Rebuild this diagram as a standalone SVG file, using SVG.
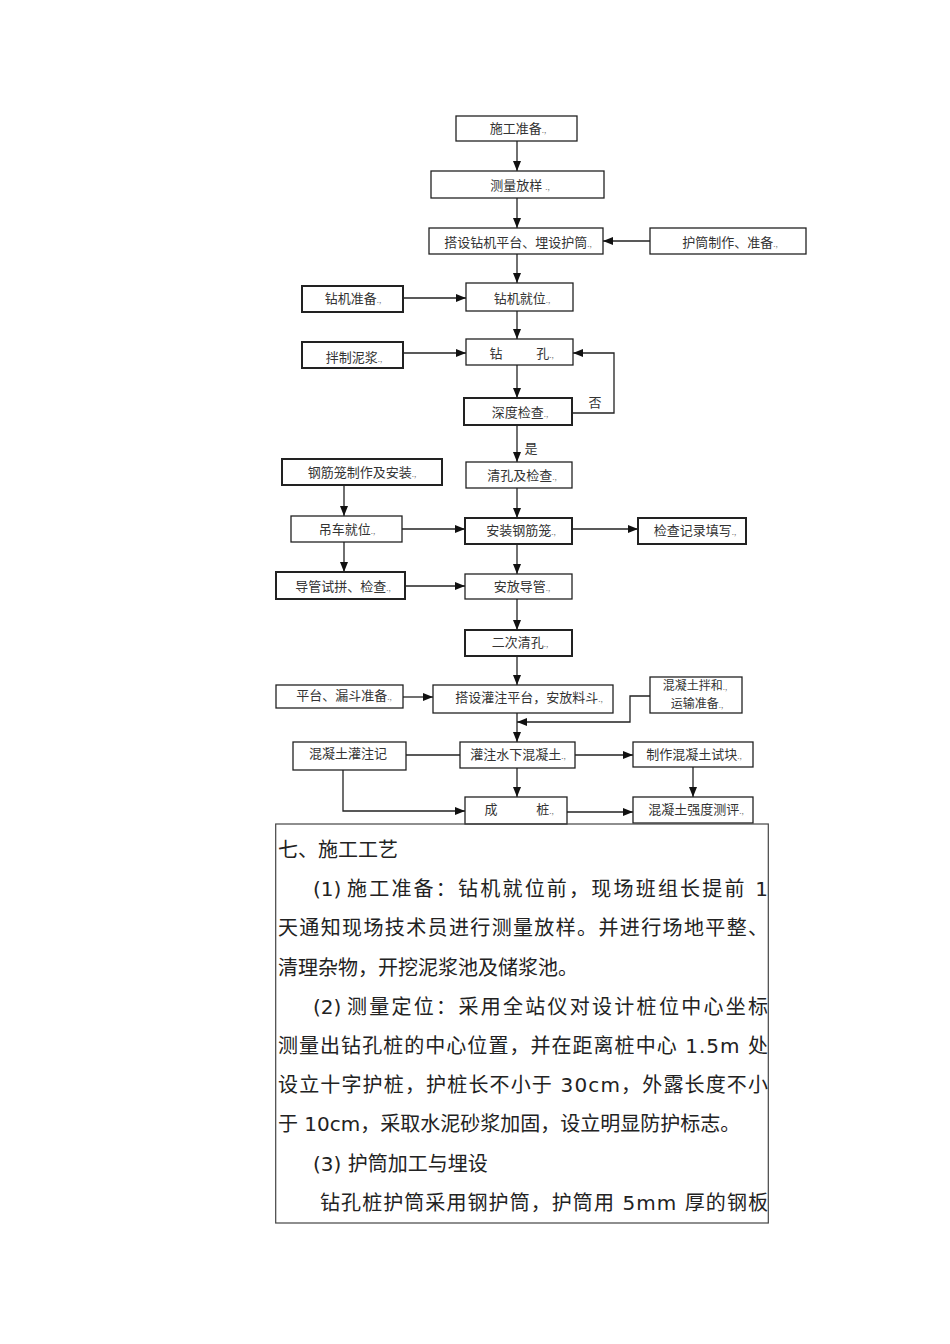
<svg xmlns="http://www.w3.org/2000/svg" width="950" height="1344" viewBox="0 0 950 1344">
<style>
.bx{fill:#fff;stroke:#222;stroke-width:1.3}
.bt{fill:#fff;stroke:#222;stroke-width:2}
.t{font-family:"Noto Sans CJK SC","DejaVu Sans",sans-serif;font-size:13px;fill:#333;text-anchor:middle}
.t2{font-size:12px}
.m{font-size:8px;fill:#777}
.c{fill:none;stroke:#222;stroke-width:1.3}
.p{font-family:"DejaVu Sans","Noto Sans CJK SC",sans-serif;font-size:20px;fill:#222}
</style>
<defs>
<marker id="a" markerUnits="userSpaceOnUse" markerWidth="11" markerHeight="9" refX="10" refY="4" orient="auto">
<path d="M0,0 L10,4 L0,8 z" fill="#111"/>
</marker>
</defs>
<rect width="950" height="1344" fill="#fff"/>
<g id="connectors">
<path class="c" d="M517,141 V171" marker-end="url(#a)"/>
<path class="c" d="M517,198 V228" marker-end="url(#a)"/>
<path class="c" d="M650,241 H603" stroke-width="2.2" marker-end="url(#a)"/>
<path class="c" d="M517,254 V283" marker-end="url(#a)"/>
<path class="c" d="M403,298 H466" marker-end="url(#a)"/>
<path class="c" d="M517,311 V339" marker-end="url(#a)"/>
<path class="c" d="M403,353 H466" marker-end="url(#a)"/>
<path class="c" d="M517,365 V398" marker-end="url(#a)"/>
<path class="c" d="M572,413 H614 V353 H573" marker-end="url(#a)"/>
<path class="c" d="M517,425 V462" marker-end="url(#a)"/>
<path class="c" d="M517,488 V518" marker-end="url(#a)"/>
<path class="c" d="M344,485 V516" marker-end="url(#a)"/>
<path class="c" d="M402,529 H465" marker-end="url(#a)"/>
<path class="c" d="M572,529 H638" marker-end="url(#a)"/>
<path class="c" d="M344,542 V572" marker-end="url(#a)"/>
<path class="c" d="M517,544 V574" marker-end="url(#a)"/>
<path class="c" d="M405,586 H465" marker-end="url(#a)"/>
<path class="c" d="M517,599 V630" marker-end="url(#a)"/>
<path class="c" d="M517,656 V685" marker-end="url(#a)"/>
<path class="c" d="M403,697 H433" marker-end="url(#a)"/>
<path class="c" d="M517,713 V742" marker-end="url(#a)"/>
<path class="c" d="M650,696 H630 V722 H517" marker-end="url(#a)"/>
<path class="c" d="M406,755 H460"/>
<path class="c" d="M575,755 H633" marker-end="url(#a)"/>
<path class="c" d="M517,768 V797" marker-end="url(#a)"/>
<path class="c" d="M693,767 V797" marker-end="url(#a)"/>
<path class="c" d="M343,770 V811 H465" marker-end="url(#a)"/>
<path class="c" d="M567,812 H633" marker-end="url(#a)"/>
<text x="595" y="407" class="t">否</text>
<text x="531" y="453" class="t">是</text>
</g>
<g id="n1"><rect class="bx" x="456" y="116" width="121" height="25"/><text class="t" x="518" y="133">施工准备<tspan class="m">.,</tspan></text></g>
<g id="n2"><rect class="bx" x="431" y="171" width="173" height="27"/><text class="t" x="520" y="190">测量放样 <tspan class="m">.,</tspan></text></g>
<g id="n3"><rect class="bx" x="429" y="228" width="174" height="26"/><text class="t" x="518" y="247">搭设钻机平台、埋设护筒<tspan class="m">.,</tspan></text></g>
<g id="n4"><rect class="bx" x="650" y="228" width="156" height="26"/><text class="t" x="730" y="247">护筒制作、准备<tspan class="m">.,</tspan></text></g>
<g id="n5"><rect class="bt" x="302" y="286" width="101" height="26"/><text class="t" x="353" y="303">钻机准备<tspan class="m">.,</tspan></text></g>
<g id="n6"><rect class="bx" x="466" y="283" width="107" height="28"/><text class="t" x="522" y="303">钻机就位<tspan class="m">.,</tspan></text></g>
<g id="n7"><rect class="bt" x="302" y="342" width="101" height="26"/><text class="t" x="354" y="362">拌制泥浆<tspan class="m">.,</tspan></text></g>
<g id="n8"><rect class="bx" x="466" y="339" width="107" height="26"/><text class="t" x="496" y="358">钻</text><text class="t" x="545" y="358">孔<tspan class="m">.,</tspan></text></g>
<g id="n9"><rect class="bt" x="464" y="398" width="108" height="27"/><text class="t" x="520" y="417">深度检查<tspan class="m">.,</tspan></text></g>
<g id="n10"><rect class="bx" x="466" y="462" width="106" height="26"/><text class="t" x="522" y="480">清孔及检查<tspan class="m">.,</tspan></text></g>
<g id="n11"><rect class="bt" x="282" y="459" width="160" height="26"/><text class="t" x="362" y="477">钢筋笼制作及安装<tspan class="m">.,</tspan></text></g>
<g id="n12"><rect class="bx" x="291" y="516" width="111" height="26"/><text class="t" x="347" y="534">吊车就位<tspan class="m">.,</tspan></text></g>
<g id="n13"><rect class="bt" x="465" y="518" width="107" height="26"/><text class="t" x="521" y="535">安装钢筋笼<tspan class="m">.,</tspan></text></g>
<g id="n14"><rect class="bt" x="638" y="518" width="108" height="26"/><text class="t" x="695" y="535">检查记录填写<tspan class="m">.,</tspan></text></g>
<g id="n15"><rect class="bt" x="276" y="572" width="129" height="27"/><text class="t" x="343" y="591">导管试拼、检查<tspan class="m">.,</tspan></text></g>
<g id="n16"><rect class="bx" x="465" y="574" width="107" height="25"/><text class="t" x="522" y="591">安放导管<tspan class="m">.,</tspan></text></g>
<g id="n17"><rect class="bt" x="465" y="630" width="107" height="26"/><text class="t" x="520" y="647">二次清孔<tspan class="m">.,</tspan></text></g>
<g id="n18"><rect class="bx" x="276" y="685" width="127" height="23"/><text class="t" x="344" y="700">平台、漏斗准备<tspan class="m">.,</tspan></text></g>
<g id="n19"><rect class="bx" x="433" y="685" width="180" height="28"/><text class="t" x="529" y="702">搭设灌注平台，安放料斗<tspan class="m">.,</tspan></text></g>
<g id="n20"><rect class="bx" x="650" y="677" width="92" height="36"/><text class="t t2" x="695" y="690">混凝土拌和<tspan class="m">.,</tspan></text><text class="t t2" x="697" y="708">运输准备<tspan class="m">.,</tspan></text></g>
<g id="n21"><rect class="bx" x="293" y="742" width="113" height="28"/><text class="t" x="348" y="758">混凝土灌注记</text></g>
<g id="n22"><rect class="bx" x="460" y="742" width="115" height="26"/><text class="t" x="518" y="759">灌注水下混凝土<tspan class="m">.,</tspan></text></g>
<g id="n23"><rect class="bx" x="633" y="742" width="120" height="25"/><text class="t" x="694" y="759">制作混凝土试块<tspan class="m">.,</tspan></text></g>
<g id="n24"><rect class="bx" x="465" y="797" width="102" height="27"/><text class="t" x="491" y="814">成</text><text class="t" x="545" y="814">桩<tspan class="m">.,</tspan></text></g>
<g id="n25"><rect class="bx" x="633" y="797" width="120" height="26"/><text class="t" x="696" y="814">混凝土强度测评<tspan class="m">.,</tspan></text></g>
<g id="textbox">
<rect x="275.7" y="824" width="492.6" height="399" fill="none" stroke="#444" stroke-width="1.2"/>
<text class="p" x="278" y="857">七、施工工艺</text>
<text class="p" x="313" y="896">(1)</text>
<text class="p" x="347" y="896" textLength="421" lengthAdjust="spacing">施工准备：钻机就位前，现场班组长提前 1</text>
<text class="p" x="278" y="935" textLength="490" lengthAdjust="spacing">天通知现场技术员进行测量放样。并进行场地平整、</text>
<text class="p" x="278" y="975">清理杂物，开挖泥浆池及储浆池。</text>
<text class="p" x="313" y="1014">(2)</text>
<text class="p" x="347" y="1014" textLength="421" lengthAdjust="spacing">测量定位：采用全站仪对设计桩位中心坐标</text>
<text class="p" x="278" y="1053" textLength="490" lengthAdjust="spacing">测量出钻孔桩的中心位置，并在距离桩中心 1.5m 处</text>
<text class="p" x="278" y="1092" textLength="490" lengthAdjust="spacing">设立十字护桩，护桩长不小于 30cm，外露长度不小</text>
<text class="p" x="278" y="1131">于 10cm，采取水泥砂浆加固，设立明显防护标志。</text>
<text class="p" x="313" y="1171">(3) 护筒加工与埋设</text>
<text class="p" x="320" y="1210" textLength="448" lengthAdjust="spacing">钻孔桩护筒采用钢护筒，护筒用 5mm 厚的钢板</text>
</g>
</svg>
